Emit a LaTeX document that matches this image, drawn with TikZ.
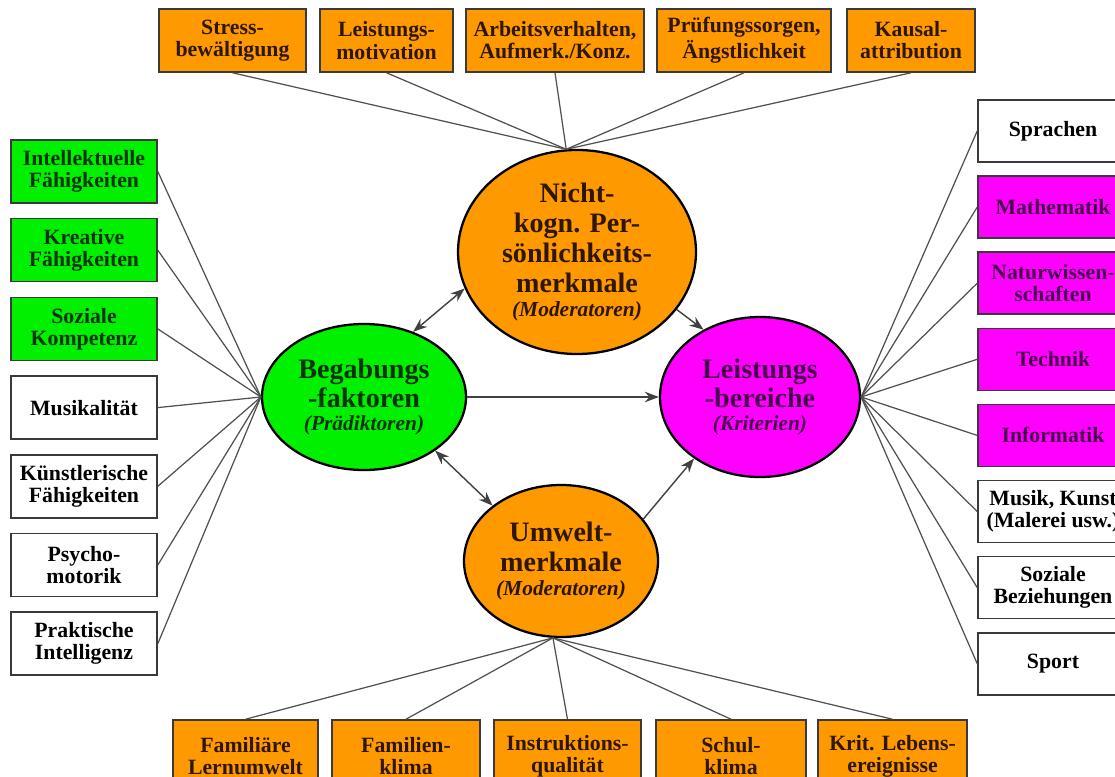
\documentclass[tikz,border=0pt]{standalone}
\usepackage{fontspec}
\setmainfont{Liberation Serif}
\usetikzlibrary{arrows.meta,shapes.geometric}
\definecolor{orangeF}{HTML}{FF9900}
\definecolor{greenF}{HTML}{00F000}
\definecolor{magF}{HTML}{FF00FF}
\definecolor{boxE}{HTML}{3A3A3A}
\definecolor{lineC}{HTML}{505050}
\definecolor{orangeT}{HTML}{2E1600}
\definecolor{greenT}{HTML}{06330A}
\definecolor{magT}{HTML}{4A0050}

\begin{document}
\begin{tikzpicture}[
    >={Stealth[length=4pt,width=3pt]},
    font=\bfseries\fontsize{6.2}{6.3}\selectfont,
    box/.style={rectangle,draw=boxE,line width=0.45pt,inner sep=0pt,
                minimum height=0.63cm,align=center},
    obox/.style={box,fill=orangeF,text=orangeT},
    gbox/.style={box,fill=greenF,text=greenT},
    wbox/.style={box,fill=white,text=black},
    mbox/.style={box,fill=magF,text=magT},
    blob/.style={ellipse,draw=black,line width=0.65pt,inner sep=0pt,
                 align=center,font=\bfseries\fontsize{8}{8.5}\selectfont},
    link/.style={draw=lineC,line width=0.35pt},
    flow/.style={->,draw=black!75,line width=0.4pt},
    both/.style={<->,draw=black!75,line width=0.4pt},
]
\useasboundingbox (0,0) rectangle (11.15,7.76);
\clip (0,0) rectangle (11.15,7.76);

% =====================================================================
%  four central factors
% =====================================================================
\node[blob,fill=orangeF,text=orangeT,minimum width=2.38cm,minimum height=2.04cm]
     (nk) at (5.77,5.24)
     {Nicht-\\kogn. Per-\\sönlichkeits-\\merkmale\\[-1.6pt]
      {\fontsize{6.1}{6.5}\selectfont\itshape(Moderatoren)}};
\node[blob,fill=greenF,text=greenT,minimum width=2.04cm,minimum height=1.46cm]
     (bf) at (3.64,3.79)
     {Begabungs\\-faktoren\\[-2pt]
      {\fontsize{6.1}{6.5}\selectfont\itshape(Prädiktoren)}};
\node[blob,fill=magF,text=magT,minimum width=2.00cm,minimum height=1.60cm]
     (lb) at (7.60,3.79)
     {Leistungs\\-bereiche\\[-2pt]
      {\fontsize{6.1}{6.5}\selectfont\itshape(Kriterien)}};
\node[blob,fill=orangeF,text=orangeT,minimum width=1.94cm,minimum height=1.52cm]
     (um) at (5.61,2.15)
     {Umwelt-\\merkmale\\[-1.8pt]
      {\fontsize{6.1}{6.5}\selectfont\itshape(Moderatoren)}};

% =====================================================================
%  personality moderators (top row)
% =====================================================================
\node[obox,minimum width=1.47cm] (t1) at (2.325,7.355) {Stress-\\bewältigung};
\node[obox,minimum width=1.33cm] (t2) at (3.865,7.355) {Leistungs-\\motivation};
\node[obox,minimum width=1.78cm] (t3) at (5.55,7.355)  {Arbeitsverhalten,\\Aufmerk./Konz.};
\node[obox,minimum width=1.74cm] (t4) at (7.44,7.355)  {Prüfungssorgen,\\Ängstlichkeit};
\node[obox,minimum width=1.28cm] (t5) at (9.11,7.355)  {Kausal-\\attribution};

% =====================================================================
%  environment moderators (bottom row, cut by the frame)
% =====================================================================
\tikzset{lowbox/.style={obox,minimum height=0.72cm}}
\node[lowbox,minimum width=1.45cm] (b1) at (2.455,0.20) {Familiäre\\Lernumwelt};
\node[lowbox,minimum width=1.48cm] (b2) at (4.06,0.20)  {Familien-\\klima};
\node[lowbox,minimum width=1.47cm] (b3) at (5.675,0.20) {Instruktions-\\qualität};
\node[lowbox,minimum width=1.50cm] (b4) at (7.31,0.20)  {Schul-\\klima};
\node[lowbox,minimum width=1.49cm] (b5) at (8.925,0.20) {Krit. Lebens-\\ereignisse};

% =====================================================================
%  predictors (left column) and criteria (right column)
% =====================================================================
\foreach \y/\n/\s/\t in {6.045/l1/gbox/{Intellektuelle\\Fähigkeiten},
                         5.258/l2/gbox/{Kreative\\Fähigkeiten},
                         4.471/l3/gbox/{Soziale\\Kompetenz},
                         3.684/l4/wbox/{Musikalität},
                         2.897/l5/wbox/{Künstlerische\\Fähigkeiten},
                         2.110/l6/wbox/{Psycho-\\motorik},
                         1.323/l7/wbox/{Praktische\\Intelligenz}}
   \node[\s,minimum width=1.46cm] (\n) at (0.84,\y) {\t};

\foreach \y/\n/\s/\t in {6.450/r1/wbox/{Sprachen},
                         5.689/r2/mbox/{Mathematik},
                         4.928/r3/mbox/{Naturwissen-\\schaften},
                         4.167/r4/mbox/{Technik},
                         3.406/r5/mbox/{Informatik},
                         2.645/r6/wbox/{Musik, Kunst\\(Malerei usw.)},
                         1.884/r7/wbox/{Soziale\\Beziehungen},
                         1.123/r8/wbox/{Sport}}
   \node[\s,minimum width=1.50cm,minimum height=0.62cm] (\n) at (10.53,\y) {\t};

% fans into the ellipses
\foreach \n in {t1,t2,t3,t4,t5} \draw[link] (\n.south) -- (nk.96);
\foreach \n in {b1,b2,b3,b4,b5} \draw[link] (\n.north) -- (um.-96);
\foreach \n in {l1,l2,l3,l4,l5,l6,l7} \draw[link] (\n.east) -- (bf.west);
\foreach \n in {r1,r2,r3,r4,r5,r6,r7,r8} \draw[link] (\n.west) -- (lb.east);

% relations between the factors
\draw[both] (bf.53)  -- (nk.198);
\draw[both] (bf.-37) -- (um.141);
\draw[flow] (bf.east) -- (lb.west);
\draw[flow] (nk.-30) -- (lb.130);
\draw[flow] (um.27)  -- (lb.223);

\end{tikzpicture}
\end{document}
